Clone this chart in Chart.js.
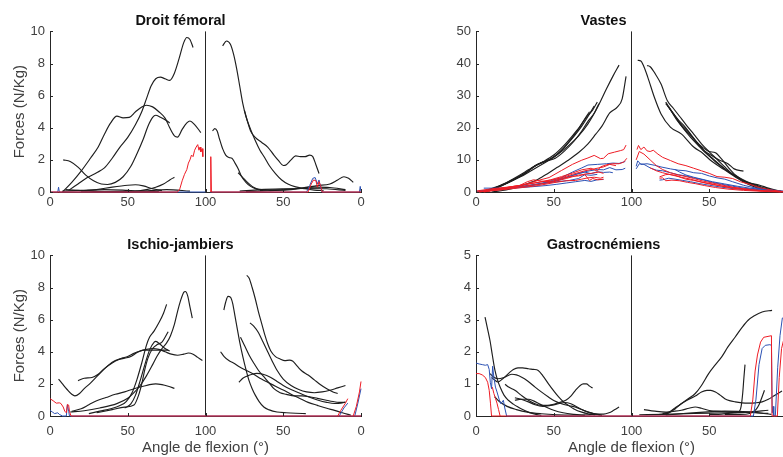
<!DOCTYPE html>
<html><head><meta charset="utf-8">
<script src="https://cdn.jsdelivr.net/npm/chart.js@4/dist/chart.umd.min.js"></script>
<style>
html,body{margin:0;padding:0;overflow:hidden;background:#fff;width:783px;height:457px;position:relative;}
canvas{position:absolute;}
</style></head><body>
<canvas id="c1" width="420" height="228" style="left:0;top:0"></canvas>
<canvas id="c2" width="428" height="228" style="left:420px;top:0"></canvas>
<canvas id="c3" width="420" height="229" style="left:0;top:228px"></canvas>
<canvas id="c4" width="428" height="229" style="left:420px;top:228px"></canvas>
<script>
// ---------- axis / labels ----------
const xTicks = [0, 50, 100, 150, 200];
const xTickLabels = ['0', '50', '100', '50', '0'];
const titles = ['Droit fémoral', 'Vastes', 'Ischio-jambiers', 'Gastrocnémiens'];
const yTitle = 'Forces (N/Kg)';
const xTitle = 'Angle de flexion (°)';
const yMax = [10, 50, 10, 5];
const yStep = [2, 10, 2, 1];
const dividerX = 100;

// ---------- Droit fémoral ----------
const DF_A = [[8,0],[14,0.6],[20,1.3],[26,2.1],[31,2.8],[35,3.6],[39,4.3],[43,4.72],[47,4.62],[51,4.65],[55,5.0],[59,5.3],[62,5.4],[66,5.3],[70,5.0],[74,4.6],[77,4.0],[80,3.5],[82,3.42],[85,3.9],[88,4.3],[90,4.42],[93,4.2],[97,3.7]];
const DF_B = [[12,0.1],[18,0.5],[24,0.9],[30,1.2],[35,1.5],[40,2.1],[45,2.8],[50,3.4],[55,4.2],[59,5.0],[62,5.8],[65,6.6],[68,7.05],[71,7.15],[74,7.05],[77,6.95],[80,7.4],[83,8.3],[86,9.3],[88,9.62],[90,9.5],[92,9.0]];
const DF_C = [[8.5,2.0],[13,1.9],[18,1.55],[23,1.05],[28,0.7],[33,0.5],[37,0.47],[42,0.6],[47,0.95],[52,1.6],[56,2.4],[60,3.3],[63,4.1],[66,4.65],[68,4.78],[71,4.65],[74,4.5],[77,4.3]];
const DF_D = [[20,0.05],[30,0.15],[40,0.3],[50,0.42],[55,0.45],[60,0.38],[66,0.2],[72,0.08]];
const DF_E = [[55,0.05],[62,0.15],[68,0.3],[73,0.5],[77,0.75],[80,0.92]];
const DF_F = [[8,0.05],[20,0.1],[35,0.15],[50,0.1],[60,0.05],[70,0.02]];
const DF_G = [[10,0.15],[25,0.05],[40,0.03],[60,0.05],[75,0.15],[90,0.05]];
const DF_S = [[111,9.1],[113.5,9.4],[116,9.2],[118,8.6],[120,7.7],[122,6.6],[124,5.5],[126,4.7],[129,3.9],[132,3.2],[135,2.6],[138,2.15],[141,1.65],[145,1.15],[149,0.75],[153,0.5],[158,0.32],[164,0.2],[170,0.12],[176,0.08]];
const DF_T = [[125,5.1],[127,4.4],[129,3.8],[132,3.4],[136,3.1],[140,2.8],[144,2.3],[147,1.95],[150,1.65],[152,1.7],[155,2.0],[158,2.25],[161,2.2],[164,2.2],[167,2.3],[169,2.2],[171,1.7],[173,1.15]];
const DF_U = [[104.5,3.8],[106,3.95],[107.5,3.8],[109,3.3],[111,2.7],[113,2.3],[115,2.15],[117,2.1],[119,1.8],[121,1.45],[123,1.0],[126,0.6],[129,0.35],[133,0.18],[137,0.1]];
const DF_V = [[121,1.2],[124,0.9],[127,0.6],[130,0.35],[133,0.2],[136,0.15]];
const DF_W = [[135,0.1],[150,0.15],[162,0.25],[172,0.4],[180,0.5],[185,0.75],[189,0.95],[192,0.85],[195,0.6]];
const DF_L1 = [[122,0.05],[135,0.15],[150,0.2],[165,0.22],[178,0.2],[190,0.1]];
const DF_L2 = [[126,0.02],[140,0.08],[155,0.15],[170,0.3],[180,0.28],[190,0.15]];
const DF_red1 = [[0,0],[82,0],[83.5,0.2],[85,0.7],[86.5,1.1],[88,1.4],[89,1.8],[90,2.0],[91,2.3],[92,2.2],[93,2.6],[94,2.8],[95,2.95],[95.8,2.6],[96.5,2.8],[97,2.5],[97.8,2.7],[98.3,2.2]];
const DF_red2 = [[103.2,0],[103.4,2.2],[103.8,0],[166,0],[168,0.5],[169.5,0.75],[171,0.7],[172,0.3],[173,0.65],[174,0.4],[175,0],[200,0]];
const DF_blue1 = [[0,0],[5,0],[5.5,0.3],[6,0],[100,0]];
const DF_blue2 = [[103,0],[165,0],[167,0.4],[169,0.85],[170.5,0.9],[172,0.5],[173,0.75],[174,0.3],[175,0],[199,0],[199.5,0.35],[200,0]];

// ---------- Vastes ----------
const VA_k1 = [[5,0],[14,1.5],[22,3.2],[29,4.8],[36,6.8],[44,9],[52,11.5],[59,14.2],[66,17.5],[72,21.2],[78,26.2],[84,32.2],[88,36],[92,39.5]];
const VA_k2 = [[10,0],[23,1],[33,2.6],[40,4],[46,5.7],[52,7.6],[59,9.8],[66,12.3],[72,15],[77,18],[81,20.5],[86,24.6],[91,26.5],[94,29],[96.5,36]];
const VA_k3 = [[4,0],[12,1.2],[20,2.8],[27,4.6],[33,6.3],[38,8.2],[43,9.4],[50,11.5],[56,14.2],[62,17.5],[67,20.5],[71,23.3],[75,25.5],[78,28]];
const VA_k4 = [[6,0],[14,1.6],[21,3.3],[28,5.2],[34,7.0],[40,8.7],[46,9.8],[53,12],[58,14.5],[63,17.3],[68,20.5],[72,23.5],[76,26.8]];
const VA_k5 = [[5,0.2],[15,1.9],[23,3.7],[31,5.6],[37,7.8],[42,9.1],[48,10.3],[55,13],[61,16.4],[66,19.7],[70,22.8],[73,25]];
const VA_k6 = [[8,0.2],[17,2],[25,4],[32,6],[39,8.4],[45,9.6],[51,10.5],[57,12.8],[63,15.8],[68,19],[72,22],[76,24.5],[79,27.5]];
const VA_k7 = [[104,41],[106,40.8],[108,39],[110.5,35.7],[114.7,29.5],[119,24.3],[125,20.2],[132,18.1],[140,14],[146,12],[151,9.8],[157,7.8],[162,6.2],[167,4.6],[172,3.1],[178,1.8],[183,1],[190,0.3],[198,0]];
const VA_k8 = [[110,39.4],[112,39],[115,37],[119,33.6],[123,28.5],[127,26],[131,23.5],[135,21],[140,18],[145,15],[150,12.5],[155,10.2],[160,7.8],[166,5.2],[172,3.4],[178,2.2],[185,1],[192,0.2]];
const VA_k9 = [[122,28],[126,25],[130,22.5],[134,20.5],[138,18],[142,15.5],[146,13.8],[150,12.6],[154,12.2],[158,10.2],[162,7.8],[167,5.2],[172,3.5],[180,1.8],[188,0.6],[195,0]];
const VA_k10 = [[122,27.5],[127,24.4],[132,21],[137,18.5],[142,15.5],[147,12.8],[152,11.2],[157,9.8],[162,8.8],[166,7.2],[172,6.5]];
const VA_k11 = [[123,27],[128,23.5],[133,20],[138,17],[144,14],[150,11.2],[156,8.6],[162,6.4],[168,4.8],[174,3.3],[180,2.2],[186,1.2],[192,0.4],[199,0]];
const VA_k12 = [[124,26.5],[129,22.5],[134,19.5],[140,16.5],[146,13],[152,10.5],[158,8],[164,5.8],[170,4],[176,2.8],[182,2.2],[188,1.2],[196,0.2]];
const VA_r1 = [[5,0],[15,0.8],[25,1.6],[33,2.6],[40,3.6],[47,4.5],[55,6.7],[62,8.6],[68,9.9],[72,10.6],[76,11.4],[80,10.4],[82,10.5],[85,11.9],[89,12.4],[93,12.9],[95,13.2],[96.5,14.6]];
const VA_r2 = [[2,0],[12,0.8],[22,1.6],[32,2.3],[40,3],[48,3.8],[55,4.8],[62,5.9],[68,6.9],[74,7.4],[78,6.5],[80,7.8],[84,8.5],[88,8.8],[92,8.8],[95,9.3],[97,10.5]];
const VA_r3 = [[0,0.3],[10,1.0],[20,1.5],[28,2.0],[33,3.2],[37,3.8],[42,3.4],[48,3.2],[55,4.2],[62,4.9],[66,5.0],[70,5.6],[74,5.8],[79,6.2],[82,5.8]];
const VA_r4 = [[0,0],[15,0.6],[30,1.4],[40,2.0],[50,2.9],[58,3.5],[64,3.6],[68,4.0],[72,4.4],[76,4.6],[80,4.3],[82,4.6]];
const VA_r5 = [[5,0.4],[18,0.9],[30,1.7],[40,2.4],[50,3.2],[58,4.2],[66,5.3],[70,5.4],[73,3.6],[75,4.2],[78,3.8],[82,4.0]];
const VA_r6 = [[3,0.2],[18,1.2],[32,2.4],[44,3.3],[54,4.3],[62,5.5],[70,6.6],[76,7.2],[82,7.8],[86,8.6],[90,8.2]];
const VA_r7 = [[103.5,13.2],[104.5,14.5],[106,13.2],[108,14],[110,12.8],[112,12.6],[114,13],[117,11.8],[120,10.8],[125,9.8],[130,8.8],[135,8.2],[140,7.4],[145,6.6],[150,5.8],[155,4.8],[160,4.6],[165,4.2],[170,3.2],[176,2.4],[182,1.4],[190,0.6],[200,0]];
const VA_r8 = [[103,10],[105,12.6],[108,11.8],[112,10],[116,8.2],[120,7],[125,6],[130,5.3],[135,4.8],[140,4.2],[146,3.4],[152,2.8],[158,2.2],[165,1.5],[172,1],[180,0.5],[190,0.2],[200,0]];
const VA_r9 = [[118,4.7],[122,5.4],[124,5.5],[128,5.2],[132,4.6],[138,4.0],[144,3.2],[150,2.5],[156,2.0],[162,1.6],[170,1.1],[178,0.7],[188,0.3],[200,0]];
const VA_r10 = [[112,7.5],[116,6.6],[120,6],[125,5.4],[130,4.8],[135,4.0],[140,3.6],[146,3.0],[152,2.5],[158,1.8],[165,1.2],[172,0.8],[182,0.4],[192,0.2]];
const VA_r11 = [[118,4.3],[120,4.4],[122,3.5],[126,3.7],[131,3.5],[136,3.0],[141,2.6],[147,2.0],[154,1.4],[162,0.9],[172,0.5],[184,0.2],[196,0]];
const VA_b1 = [[5,1.2],[15,1.2],[25,1.4],[35,2.0],[45,3.0],[55,4.5],[62,6.2],[68,7.5],[72,8.4],[78,8.6],[84,8.8],[88,9.0],[92,8.9],[96,9.5]];
const VA_b2 = [[0,0.2],[12,0.6],[24,1.2],[36,2.0],[46,2.9],[54,3.8],[60,4.8],[66,5.8],[72,6.5],[78,7],[82,6.9],[86,7.6],[90,6.9],[94,7.0],[96,7.4]];
const VA_b3 = [[2,0.3],[15,0.8],[28,1.5],[40,2.5],[50,3.4],[58,4.6],[65,5.6],[70,6.2],[74,5.7],[78,6.3],[82,6.1],[86,6.2],[88,6.0]];
const VA_b4 = [[5,0.5],[20,1.1],[35,1.6],[45,2.0],[52,2.4],[58,2.8],[64,3.2],[70,3.6],[74,3.3],[78,3.8],[82,3.9]];
const VA_b5 = [[0,0],[15,0.9],[30,1.8],[42,2.6],[52,3.2],[60,3.6],[66,4.2],[70,5.4],[74,5.2],[78,5.5]];
const VA_b6 = [[103,8],[104,9.7],[106,8.6],[110,8.8],[115,8.3],[119,7.8],[125,7.2],[130,6.8],[135,6.6],[140,6.0],[145,5.8],[150,5.0],[155,4.4],[160,4.0],[165,3.2],[172,2.1],[180,1.2],[190,0.6],[200,0.2]];
const VA_b7 = [[103,7.2],[105,8.8],[108,8.6],[112,7.5],[116,6.8],[120,6.6],[125,6.0],[130,5.4],[135,5.0],[140,4.4],[146,3.8],[152,3.0],[158,2.4],[165,1.8],[172,1.2],[180,0.8],[190,0.4],[200,0.1]];
const VA_b8 = [[118,3.7],[120,3.8],[124,4.3],[128,4.0],[133,3.6],[138,3.2],[144,2.6],[150,2.1],[158,1.5],[166,1.0],[176,0.6],[188,0.3],[200,0]];
const VA_b9 = [[128,7.0],[131,6.2],[135,5.3],[140,4.6],[146,3.9],[152,3.2],[160,2.5],[168,1.8],[176,1.2],[186,0.7],[196,0.3]];

// ---------- Ischio-jambiers ----------
const IJ_k1 = [[13,0.25],[22,0.33],[32,0.5],[43,0.77],[50,1.1],[54,1.45],[58,1.9],[62,2.5],[66,3.2],[69,3.75],[72,4.2],[75,4.55],[77.5,5.0],[80,5.7],[82,6.5],[84,7.2],[86,7.7],[87,7.75],[88.5,7.5],[90,6.8],[91.5,6.1]];
const IJ_k2 = [[25,0.15],[32,0.3],[39,0.45],[45,0.65],[49,0.9],[53,1.5],[56,2.3],[59,3.3],[62,4.4],[64,4.9],[67,5.3],[70,5.8],[73,6.4],[75,6.95]];
const IJ_k3 = [[30,0.2],[40,0.4],[48,0.55],[54,0.68],[57,1.3],[59,2.0],[61,2.9],[63,3.6],[66,4.2],[69,4.45],[72,4.6],[74,4.9],[76,5.25]];
const IJ_k4 = [[48,0.5],[52,0.75],[55,1.3],[58,2.2],[61,3.2],[64,4.1],[67,4.6],[68,4.65],[71,4.45],[74,4.2],[77,4.05]];
const IJ_k5 = [[5.5,2.3],[8,2.0],[11,1.65],[14,1.35],[16,1.25],[19,1.4],[22,1.7],[26,2.05],[30,2.45],[34,2.85],[38,3.2],[42,3.45],[46,3.6],[50,3.7],[54,3.9],[58,4.05],[62,4.15],[66,4.2],[70,4.15],[74,4.0],[78,3.85],[82,3.78],[86,3.85],[89,3.92],[92,3.85],[95,3.65],[98,3.45]];
const IJ_k6 = [[18,2.2],[22,2.35],[27,2.4],[31,2.6],[35,2.95],[40,3.3],[44,3.5],[48,3.6],[52,3.7],[56,3.95],[60,4.1],[64,4.1],[68,4.1],[72,4.1],[76,4.1]];
const IJ_k7 = [[14,0.3],[20,0.45],[25,0.7],[30,0.95],[36,1.15],[42,1.35],[48,1.5],[54,1.7],[60,1.85],[64,1.95],[68,2.0],[72,1.95],[76,1.85],[80,1.72]];
const IJ_k8 = [[111.8,6.6],[113,7.1],[114.5,7.45],[116,7.4],[117.5,7.0],[119,6.2],[120.5,5.4],[122,4.6],[124,3.7],[126,2.9],[128,2.2],[130,1.7],[132,1.3],[134.5,0.9],[137.5,0.56],[141,0.38],[146,0.25],[152,0.2],[158,0.17],[164.5,0.15]];
const IJ_k9 = [[126.5,8.75],[128,8.6],[130,8.0],[132,7.3],[134,6.5],[136,5.8],[138,5.1],[140,4.5],[142,4.05],[145,3.7],[148,3.55],[151,3.45],[154,3.48],[156,3.42],[159,3.1],[162,2.8],[166,2.55],[170,2.25],[174,1.95],[178,1.7],[182,1.5],[185,1.4]];
const IJ_k10 = [[128.6,5.8],[131,5.6],[134,5.2],[137,4.6],[140,4.0],[143,3.4],[146,2.85],[150,2.3],[155,1.9],[160,1.65],[165,1.5],[170,1.45],[175,1.5],[180,1.6],[185,1.75],[190,1.9]];
const IJ_k11 = [[122.5,4.9],[125,4.4],[128,3.8],[131,3.3],[134,2.85],[137.5,2.45],[141,2.05],[144,1.7],[148,1.45],[152,1.35],[157,1.25],[162,1.25],[167,1.2],[172,1.1],[177,1.0],[182,0.9],[186,0.85],[190,0.85]];
const IJ_k12 = [[109.7,4.0],[112,3.7],[115,3.45],[118,3.3],[122,3.05],[126,2.85],[131,2.6],[136,2.3],[140,2.1],[145,1.85],[150,1.62],[155,1.35],[161,1.08],[166,0.85],[172,0.66],[178,0.48],[183,0.35],[188,0.2],[193.5,0.05]];
const IJ_k13 = [[121.5,2.1],[124,2.35],[127,2.5],[130,2.6],[133,2.65],[137,2.6],[142,2.4],[146,2.15],[150,1.9],[155,1.65],[161,1.4],[166,1.2],[172,1.0],[178,0.85],[183,0.78],[187,0.8],[190,0.87]];
const IJ_red1 = [[0,1.08],[2,0.95],[4,0.8],[6,0.82],[7,0.78],[8.5,0.56],[9.5,0.3],[10.5,0.2],[11.2,0.72],[12,0.68],[12.5,0.3],[13.5,0],[200,0]];
const IJ_red2 = [[185,0],[187,0.35],[190,0.8],[191.5,1.08]];
const IJ_red3 = [[195,0],[197,0.6],[199,1.5],[200,2.15]];
const IJ_blue1 = [[0,0.35],[1.5,0.25],[3,0.15],[5,0.2],[6,0.1],[8,0],[10.5,0],[11.2,0.7],[12,0.3],[12.5,0],[200,0]];
const IJ_blue2 = [[186,0],[189,0.5],[191.5,0.8]];
const IJ_blue3 = [[196,0],[198,0.8],[200,1.7]];

// ---------- Gastrocnémiens ----------
const GA_k1 = [[5.8,3.08],[7.5,2.7],[9,2.35],[10.5,1.9],[12.2,1.42],[14,1.1],[15.5,0.9],[18,0.65],[20.8,0.49],[24,0.37],[27,0.28],[30,0.2],[33.7,0.12],[38,0.06],[42,0.02]];
const GA_k2 = [[10,1.2],[12,1.12],[14,1.06],[17,1.15],[20.8,1.32],[24,1.45],[27,1.5],[30,1.5],[33.7,1.47],[37,1.45],[40,1.42],[43,1.25],[46.6,1.0],[50,0.78],[53,0.6],[56,0.45],[59.4,0.33],[63,0.22],[68,0.12],[72,0.07],[76.6,0.04]];
const GA_k3 = [[9,1.32],[11,1.22],[14,1.16],[18,1.2],[23,1.3],[26,1.28],[29.4,1.21],[33,1.1],[38,0.9],[42,0.75],[46.6,0.59],[50,0.48],[55,0.38],[60,0.32],[63.7,0.28],[68,0.2],[72.3,0.12],[76,0.07],[81,0.02]];
const GA_k4 = [[18.7,0.99],[21,0.9],[25,0.8],[29,0.65],[33.7,0.49],[38,0.38],[42,0.33],[46,0.33],[51,0.38],[55,0.44],[58,0.5],[61,0.62],[64,0.8],[67,0.95],[69,1.0],[71,1.0],[73,0.93],[75,0.87]];
const GA_k5 = [[25,0.57],[29,0.52],[33.7,0.44],[38,0.35],[43,0.3],[48,0.33],[53,0.38],[57,0.42],[61,0.38],[65,0.28],[70,0.16],[75,0.08],[80,0.04]];
const GA_k6 = [[25,0.49],[29,0.52],[33.7,0.52],[37,0.47],[41,0.37],[45,0.28],[50,0.18],[56,0.1],[63,0.05],[70,0.02]];
const GA_k7 = [[12,0.6],[15,0.45],[20,0.3],[26,0.2],[33,0.12],[42,0.07],[52,0.04],[62,0.03],[72,0.04],[78,0.06],[82,0.06],[85.5,0.1],[88,0.16],[90,0.22],[92,0.28]];
const GA_k8 = [[120,0.08],[124,0.12],[128,0.25],[132,0.38],[136,0.52],[141,0.7],[145,0.95],[149.6,1.32],[154,1.6],[158,1.84],[162,2.15],[166.7,2.46],[171,2.75],[175,2.98],[179,3.12],[184,3.24],[190.4,3.29]];
const GA_k9 = [[118,0.05],[123.8,0.09],[128,0.22],[132,0.38],[136,0.5],[141,0.62],[145,0.75],[148.5,0.8],[151,0.8],[154,0.75],[157,0.65],[160,0.54],[163,0.48],[166.7,0.44],[171,0.41],[175,0.4],[180,0.41],[184,0.44],[188,0.52],[192,0.64],[196.8,0.78]];
const GA_k10 = [[150,0.05],[158,0.06],[162,0.08],[166,0.1],[169,0.13],[170.5,0.3],[171.5,0.7],[172.3,1.2],[173,1.6]];
const GA_k11 = [[160,0.05],[170,0.05],[176,0.08],[180,0.2],[182,0.35],[184,0.6],[185.5,0.8]];
const GA_k12 = [[108,0.2],[115,0.15],[122,0.12],[128,0.15],[132,0.18],[137,0.24],[141,0.28],[145,0.24],[150,0.17],[158,0.14],[170,0.12],[180,0.1],[188,0.08]];
const GA_k13 = [[105,0.04],[120,0.05],[140,0.08],[160,0.1],[175,0.12],[188,0.18]];
const GA_k14 = [[122,0.03],[140,0.1],[160,0.15],[175,0.13],[190,0.05]];
const GA_red1 = [[0,1.32],[2,1.32],[4,1.28],[6,1.2],[7.5,1.05],[8.5,0.8],[9.3,0.4],[10,0],[100,0]];
const GA_red2 = [[10.5,0.9],[11.5,0.7],[12.5,0.55],[13.5,0.4],[14.5,0.2],[15.5,0]];
const GA_red3 = [[100,0],[176.4,0],[178,0.5],[179.5,1.4],[181,1.9],[183,2.3],[185,2.45],[190,2.5],[190.4,0],[193.8,0],[195,1.2],[196.5,2.1],[198,2.4],[200,2.45]];
const GA_blue1 = [[0,1.65],[2,1.62],[4,1.6],[6,1.58],[7.5,1.6],[8.5,1.45],[9.2,1.05],[10,0.85],[10.7,1.55],[11.5,1.2],[12.5,0.9],[13.5,0.75],[15,0.5],[16,0.38],[17.6,0.49],[18.5,0.25],[19.7,0],[100,0]];
const GA_blue2 = [[100,0],[178.4,0],[180,0.5],[182,1.6],[184,2.1],[186,2.2],[189,2.22],[190,2.2],[190.5,0.1],[191,0.3],[191.5,0],[192.5,0],[194,1.5],[195.5,2.5],[197,3.05],[200,3.1]];

// ---------- groups ----------
const panels = [
  {red:[DF_red1, DF_red2], blue:[DF_blue1, DF_blue2], black:[DF_A, DF_B, DF_C, DF_D, DF_E, DF_F, DF_G, DF_S, DF_T, DF_U, DF_V, DF_W, DF_L1, DF_L2]},
  {red:[VA_r1, VA_r2, VA_r3, VA_r4, VA_r5, VA_r6, VA_r7, VA_r8, VA_r9, VA_r10, VA_r11], blue:[VA_b1, VA_b2, VA_b3, VA_b4, VA_b5, VA_b6, VA_b7, VA_b8, VA_b9], black:[VA_k1, VA_k2, VA_k3, VA_k4, VA_k5, VA_k6, VA_k7, VA_k8, VA_k9, VA_k10, VA_k11, VA_k12]},
  {red:[IJ_red1, IJ_red2, IJ_red3], blue:[IJ_blue1, IJ_blue2, IJ_blue3], black:[IJ_k1, IJ_k2, IJ_k3, IJ_k4, IJ_k5, IJ_k6, IJ_k7, IJ_k8, IJ_k9, IJ_k10, IJ_k11, IJ_k12, IJ_k13]},
  {red:[GA_red1, GA_red2, GA_red3], blue:[GA_blue1, GA_blue2], black:[GA_k1, GA_k2, GA_k3, GA_k4, GA_k5, GA_k6, GA_k7, GA_k8, GA_k9, GA_k10, GA_k11, GA_k12, GA_k13, GA_k14]}
];

const FONT = 'Liberation Sans, Arial, Helvetica, sans-serif';
const AXC = '#262626';
const TXT = '#404040';

function ds(pts, color, w, smooth) {
  return {data: pts.map(p => ({x: p[0], y: p[1]})), borderColor: color, borderWidth: w,
    pointRadius: 0, fill: false, clip: false, tension: 0,
    cubicInterpolationMode: smooth ? 'monotone' : 'default'};
}

const inwardTicks = {
  id: 'inwardTicks',
  afterDatasetsDraw(chart) {
    const {ctx, chartArea: a, scales: {x, y}} = chart;
    ctx.save(); ctx.strokeStyle = AXC; ctx.lineWidth = 1; ctx.beginPath();
    x.ticks.forEach(t => { const px = Math.round(x.getPixelForValue(t.value)) + 0.5; ctx.moveTo(px, a.bottom); ctx.lineTo(px, a.bottom - 3); });
    y.ticks.forEach(t => { const py = Math.round(y.getPixelForValue(t.value)) + 0.5; ctx.moveTo(a.left, py); ctx.lineTo(a.left + 3, py); });
    ctx.stroke(); ctx.restore();
  }
};

const layouts = [
  {id:'c1', yW:50, xH:36, padR:59, tPad:{top:12,bottom:2}, yTitle:true, xTitle:false, xPad:3},
  {id:'c2', yW:56, xH:36, padR:61, tPad:{top:12,bottom:2}, yTitle:false, xTitle:false, xPad:3},
  {id:'c3', yW:50, xH:41, padR:59, tPad:{top:8,bottom:2}, yTitle:true, xTitle:true, xPad:8},
  {id:'c4', yW:56, xH:41, padR:61, tPad:{top:8,bottom:2}, yTitle:false, xTitle:true, xPad:8}
];

panels.forEach((p, i) => {
  const L = layouts[i];
  const datasets = [];
  p.red.forEach(d => datasets.push(ds(d, '#ee1c25', 1, false)));
  p.blue.forEach(d => datasets.push(ds(d, '#2c52b4', 1, false)));
  p.black.forEach(d => datasets.push(ds(d, '#1e1e1e', 1.15, true)));
  datasets.push(ds([[dividerX, 0], [dividerX, yMax[i]]], AXC, 1, false));
  new Chart(document.getElementById(L.id), {
    type: 'line',
    data: {datasets},
    plugins: [inwardTicks],
    options: {
      responsive: false, animation: false, devicePixelRatio: 1,
      layout: {padding: {left: 0, top: 0, bottom: 0, right: L.padR}},
      plugins: {
        legend: {display: false}, tooltip: {enabled: false},
        title: {display: true, text: titles[i], color: '#111', font: {family: FONT, size: 14.5, weight: 'bold', lineHeight: 1.2}, padding: L.tPad}
      },
      scales: {
        x: {
          type: 'linear', min: 0, max: 200,
          afterFit: s => { s.height = L.xH; },
          afterBuildTicks: s => { s.ticks = xTicks.map(v => ({value: v})); },
          ticks: {autoSkip: false, maxRotation: 0, padding: L.xPad, color: TXT, font: {family: FONT, size: 13},
            callback: v => { const k = xTicks.indexOf(v); return k >= 0 ? xTickLabels[k] : ''; }},
          grid: {display: true, drawOnChartArea: false, drawTicks: false},
          border: {display: true, color: AXC, width: 1},
          title: {display: L.xTitle, text: xTitle, color: TXT, font: {family: FONT, size: 15}, padding: {top: 0, bottom: 0}}
        },
        y: {
          type: 'linear', min: 0, max: yMax[i],
          afterFit: s => { s.width = L.yW; },
          ticks: {stepSize: yStep[i], padding: 5, color: TXT, font: {family: FONT, size: 13}},
          grid: {display: true, drawOnChartArea: false, drawTicks: false},
          border: {display: true, color: AXC, width: 1},
          title: {display: L.yTitle, text: yTitle, color: TXT, font: {family: FONT, size: 15}, padding: {top: 11, bottom: 0}}
        }
      }
    }
  });
});
</script>
</body></html>
